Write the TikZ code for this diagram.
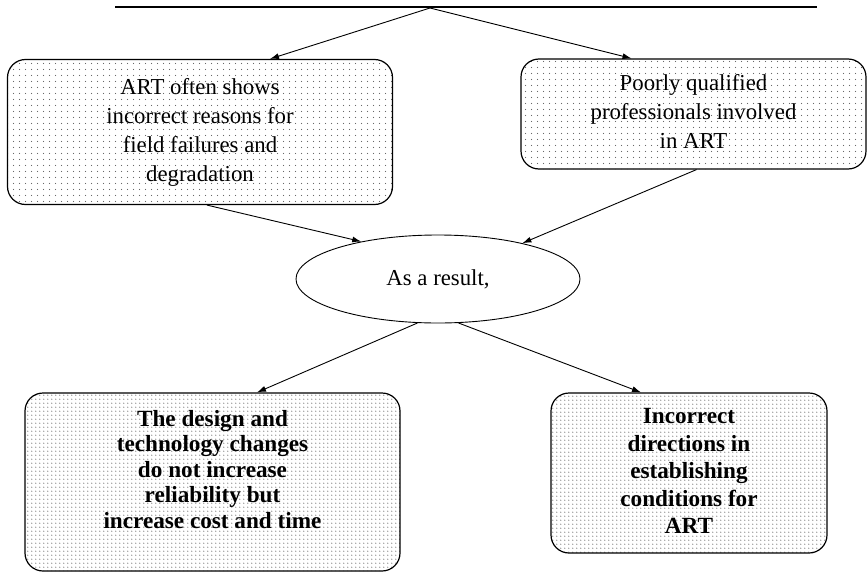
\documentclass[tikz,border=0pt]{standalone}
\usepackage{fontspec}
\setmainfont{Liberation Serif}
\usetikzlibrary{arrows.meta,shapes.geometric,patterns.meta}

% stippled fills for the boxes
\tikzdeclarepattern{name=sparsedots,type=uncolored,
  bottom left={(0pt,0pt)},top right={(5.5pt,5.5pt)},tile size={(5.5pt,5.5pt)},
  code={\fill (2.75pt,2.75pt) circle (0.6pt);}}
\tikzdeclarepattern{name=densedots,type=uncolored,
  bottom left={(0pt,0pt)},top right={(3.8pt,3.8pt)},tile size={(3.8pt,3.8pt)},
  code={\fill (1.9pt,1.9pt) circle (0.6pt);}}

\tikzset{
  causebox/.style={draw, line width=1.2pt, rounded corners=18pt, align=center,
    inner sep=0pt, pattern={sparsedots}, pattern color=black!65,
    font=\fontsize{22.8}{29}\selectfont},
  effectbox/.style={draw, line width=1.2pt, rounded corners=18pt, align=center,
    inner sep=0pt, pattern={densedots}, pattern color=black!65,
    font=\fontsize{23.2}{25.5}\selectfont\bfseries},
  hub/.style={draw, ellipse, line width=0.9pt, inner sep=0pt,
    minimum width=284pt, minimum height=88pt, font=\fontsize{22.8}{26}\selectfont},
  link/.style={line width=0.9pt, -{Latex[length=9pt,width=6pt]}},
}

\begin{document}
\begin{tikzpicture}[x=1pt,y=-1pt]
\useasboundingbox (0,0) rectangle (868,573);

% heading rule and the point the two arrows leave from
\coordinate (ruleL) at (115,7);
\coordinate (ruleR) at (817,7);
\coordinate (split) at (430,8);
\draw[line width=2pt] (ruleL) -- (ruleR);

% cause boxes
\node[causebox, minimum width=385pt, minimum height=145pt] (lbox) at (200,132)
  {\begin{tabular}{@{}c@{}}ART often shows\\incorrect reasons for\\field failures and\\degradation\end{tabular}};
\node[causebox, minimum width=345pt, minimum height=110pt] (rbox) at (693.5,114)
  {\begin{tabular}{@{}c@{}}Poorly qualified\\professionals involved\\in ART\end{tabular}};

% central ellipse
\node[hub] (res) at (438,279) {As a result,};

% effect boxes
\node[effectbox, minimum width=375pt, minimum height=178pt] (lout) at (212.5,482)
  {\raisebox{0pt}[\height][\dimexpr\depth+20pt\relax]{\begin{tabular}{@{}c@{}}The design and\\technology changes\\do not increase\\reliability but\\increase cost and time\end{tabular}}};
\node[effectbox, minimum width=276pt, minimum height=160pt] (rout) at (689,473)
  {\fontsize{23.2}{27.5}\selectfont\begin{tabular}{@{}c@{}}Incorrect\\directions in\\establishing\\conditions for\\ART\end{tabular}};

% connectors
\draw[link] (split) -- ([xshift=70pt]lbox.north);
\draw[link] (split) -- ([xshift=-62pt]rbox.north);
\draw[link] ([xshift=7pt]lbox.south) -- (res.154.6);
\draw[link] ([xshift=3pt]rbox.south) -- (res.23.5);
\draw[link] (res.245) -- ([xshift=44.5pt]lout.north);
\draw[link] (res.295) -- ([xshift=-48pt]rout.north);
\end{tikzpicture}
\end{document}
